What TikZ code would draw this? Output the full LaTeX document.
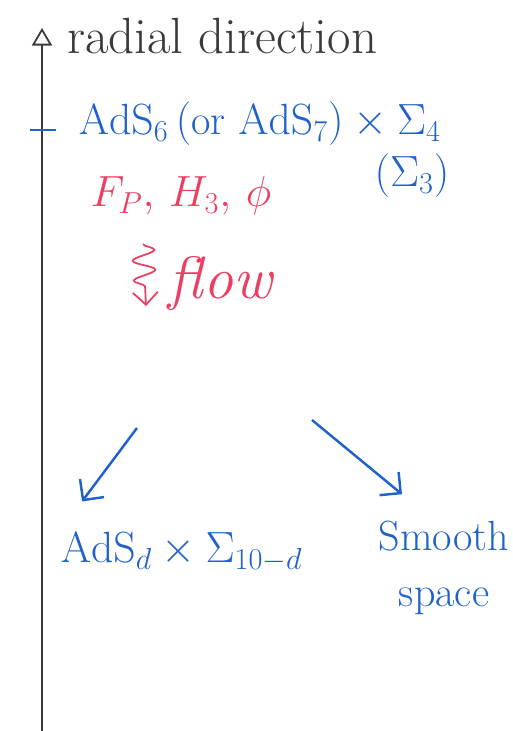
\documentclass[tikz,border=0pt]{standalone}
\usepackage{amsmath}
\usetikzlibrary{arrows.meta, positioning, calc, decorations.pathmorphing}
\definecolor{cblue}{HTML}{1F62CC}
\definecolor{cred}{HTML}{EA3F62}
\definecolor{cink}{HTML}{3A3A3A}
\tikzset{
  every picture/.style={line width=1.2pt},
  blu/.style={text=cblue, font=\fontsize{24}{29}\selectfont, inner sep=1pt},
  rd/.style={text=cred, inner sep=1pt},
  arrow/.style={-{Straight Barb[length=3mm]}, draw=cblue, line width=1.4pt},
}
\begin{document}
\begin{tikzpicture}[x=0.02cm, y=-0.02cm,
  axis/.style={draw=cink, line width=1pt, -{Triangle[open, length=3.5mm, width=4mm]}},
  wiggle/.style={draw=cred, line width=1pt, decorate,
    decoration={snake, amplitude=2.2mm, segment length=4mm, post length=3mm}}]
  \useasboundingbox (0,0) rectangle (513,731);
  % axis
  \coordinate (bot) at (42,731);
  \coordinate (top) at (42,28);
  \draw[axis] (bot) -- (top);
  \coordinate (tl) at (30,130); \coordinate (tr) at (56,130);
  \draw[draw=cblue, line width=1.6pt] (tl) -- (tr);
  \node[anchor=west, text=cink, font=\fontsize{29}{34}\selectfont, inner sep=0pt] (rad) at (66,36) {radial direction};
  % UV
  \node[blu, anchor=west] (uv) at (76,124) {$\mathrm{AdS}_6\,(\text{or }\mathrm{AdS}_7)\times\Sigma_4$};
  \node[blu] (sig) at (412,176) {$(\Sigma_3)$};
  \node[rd, anchor=west, font=\fontsize{24}{28}\selectfont] (fields) at (88,196) {$F_P,\,H_3,\,\phi$};
  % flow
  \coordinate (fa) at (143,244);
  \coordinate (fb) at (146,306);
  \draw[wiggle, -{Straight Barb[length=2.5mm]}] (fa) -- (fb);
  \node[rd, anchor=west, font=\fontsize{34}{40}\selectfont\itshape] (flow) at (166,284) {flow};
  % IR
  \node[blu, anchor=west, font=\fontsize{26}{31}\selectfont] (ir) at (58,552) {$\mathrm{AdS}_d\times\Sigma_{10-d}$};
  \node[blu, align=center, font=\fontsize{24}{32}\selectfont] (smooth) at (444,568) {Smooth\\space};
  \coordinate (la) at (137,428);
  \coordinate (ra) at (312,420);
  \draw[arrow] (la) -- ($(ir.north west)+(24,-28)$);
  \draw[arrow] (ra) -- ($(smooth.north west)+(26,-24)$);
\end{tikzpicture}
\end{document}
